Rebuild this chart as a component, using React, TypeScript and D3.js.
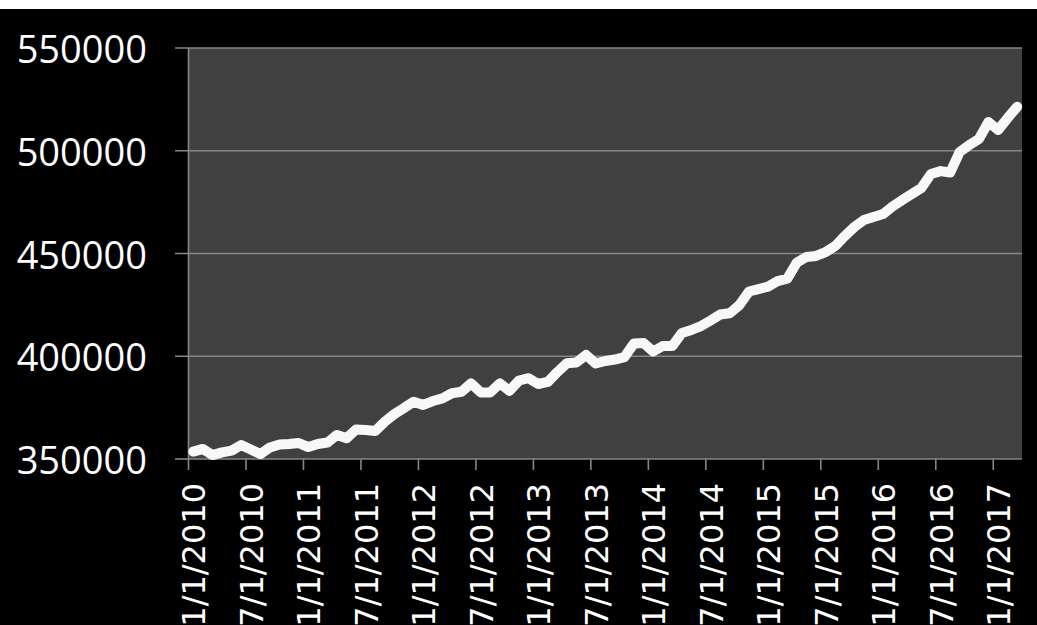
import React from "react";
import * as d3 from "d3";

const months: string[] = [];
for (let y = 2010; y <= 2017; y++) {
  for (let m = 1; m <= 12; m++) {
    if (y === 2017 && m > 3) break;
    months.push(`${m}/1/${y}`);
  }
}

const values: number[] = [
  353600, 354900, 351900, 353200, 354100, 356800, 354600, 352400, 355600, 357100, 357300, 357800,
  355800, 357300, 358000, 361700, 360100, 364400, 364100, 363600, 368200, 371900, 374800, 377900,
  376300, 378200, 379500, 382000, 382700, 386800, 382400, 382400, 386800, 383200, 388200, 389300,
  386500, 387500, 392300, 396600, 397000, 400600, 396500, 397700, 398400, 399600, 406200, 406400,
  402300, 405000, 405000, 411300, 412800, 414700, 417400, 420300, 420900, 424900, 431500, 432700,
  433900, 436600, 437800, 445600, 448300, 448800, 450700, 453600, 458500, 462900, 466300, 467800,
  469200, 472900, 476000, 478900, 481900, 488700, 490100, 489400, 499400, 502800, 505700, 514000,
  510100, 515900, 521400,
];

const yTicks: number[] = [350000, 400000, 450000, 500000, 550000];
const labelEvery = 6;

const W = 1037;
const H = 625;
const plotLeft = 188.5;
const plotRight = 1022;
const plotTop = 48;
const plotBottom = 459;

export default function App() {
  const x = d3.scaleBand<string>().domain(months).range([plotLeft, plotRight]).padding(0);
  const y = d3.scaleLinear().domain([350000, 550000]).range([plotBottom, plotTop]);
  const bw = x.bandwidth();
  const line = d3
    .line<number>()
    .x((_, i) => (x(months[i]) as number) + bw / 2)
    .y((d) => y(d));

  const tickCats = months.filter((_, i) => i % labelEvery === 0);
  const gridColor = "#868686";

  return (
    <>
      <style>{`body{margin:0;background:#000}`}</style>
      <svg width={W} height={H} style={{ display: "block" }}>
        <rect x={0} y={0} width={W} height={H} fill="#ffffff" />
        <rect x={0} y={9} width={W} height={H - 9} fill="#000000" />
        <rect
          x={plotLeft}
          y={plotTop}
          width={plotRight - plotLeft}
          height={plotBottom - plotTop}
          fill="#404040"
        />
        {yTicks.map((t) => (
          <g key={t}>
            <line
              x1={175}
              x2={t === 350000 ? plotLeft : plotRight}
              y1={y(t)}
              y2={y(t)}
              stroke={gridColor}
              strokeWidth={1.6}
            />
            <text
              x={147}
              y={y(t)}
              fill="#ffffff"
              fontFamily="'Open Sans', sans-serif"
              fontSize={38}
              textAnchor="end"
              dominantBaseline="central"
            >
              {t}
            </text>
          </g>
        ))}
        <line x1={plotLeft} x2={plotLeft} y1={plotTop} y2={plotBottom} stroke={gridColor} strokeWidth={1.6} />
        <line x1={plotLeft} x2={plotRight} y1={plotBottom} y2={plotBottom} stroke={gridColor} strokeWidth={1.6} />
        {tickCats.map((c) => {
          const bx = x(c) as number;
          const cx = bx + bw / 2;
          return (
            <g key={c}>
              <line x1={bx} x2={bx} y1={plotBottom} y2={470} stroke={gridColor} strokeWidth={1.6} />
              <text
                transform={`translate(${cx + 1},483) rotate(-90)`}
                fill="#ffffff"
                fontFamily="'DejaVu Sans', sans-serif"
                fontSize={32}
                textAnchor="end"
                dominantBaseline="central"
              >
                {c}
              </text>
            </g>
          );
        })}
        <path
          d={line(values) || ""}
          fill="none"
          stroke="#f8f8f8"
          strokeWidth={10}
          strokeLinejoin="round"
          strokeLinecap="round"
        />
      </svg>
    </>
  );
}
